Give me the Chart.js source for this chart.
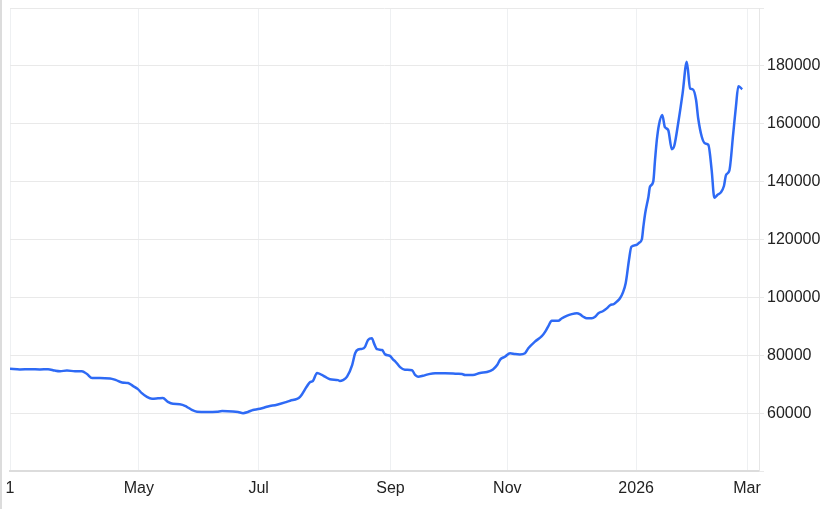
<!DOCTYPE html>
<html>
<head>
<meta charset="utf-8">
<script src="https://cdn.jsdelivr.net/npm/chart.js@4"></script>
<style>
  html, body { margin: 0; padding: 0; background: #fff; }
  #wrap { position: relative; width: 830px; height: 509px; }
  #edge { position: absolute; left: 0; top: 0; width: 2px; height: 509px; background: #dcdcdc; }
</style>
</head>
<body>
<div id="wrap">
  <canvas id="chart" width="830" height="509"></canvas>
  <div id="edge"></div>
</div>
<script>
// trading-day index along the axis and the price
const dayIndex = [
  0, 3.3, 6.7, 10, 12.7, 15, 16.7, 19, 21.7, 24, 25.7, 27.4, 30, 33.4, 35.4, 37.4, 39.4, 41, 42.7,
  44, 45.7, 47.4, 49.4, 51, 52.7, 54.4, 56.7, 59, 60.7, 62.4, 65.8, 69.1, 70.8, 74.4, 76.1, 77.8, 79.4, 81.1, 82.8, 84.4,
  86.1, 89.1, 91.8, 93.5, 95.8, 96.8, 99, 100.1, 101.1, 102.5, 104.1, 105.1, 106.8, 109.5, 110.1, 111.1, 112.5,
  114.2, 115.2, 116.2, 117.5, 118.5, 119.5, 120.8, 121.5, 122.5, 124.2, 125.2, 126.8, 127.8,
  128.5, 130.2, 131.8, 134.2, 135.2, 136.2, 137.8, 139.5, 141.9, 145.2, 149.2, 150.9, 151.9, 154.5, 156.9, 159.2,
  161.2, 162.6, 163.6, 165.2, 166.9, 168.6, 170.2,
  171.9, 173, 175.2, 177.5, 178.6, 179.7, 180.8, 183, 184.1, 185.8, 187.5, 189.2, 190.3, 191.4, 192.5, 194.2, 195.3,
  196.4, 198, 199.2, 200.3, 201.6, 202.5, 203.6, 204.7, 205.5, 206, 206.6, 207.4, 209, 210, 210.9,
  211.4, 212, 213.1, 213.6, 214.7, 215.3, 215.9, 216.6, 217.7, 218.6, 219.7, 220.9, 221.7, 223.1, 224.5, 225.9,
  227, 227.9, 229, 229.7, 230.9, 232, 233.1, 234.2, 235.1, 236.1, 237.2, 238.3, 239, 240.1, 241.4, 242.3, 243.1, 244.4
];
const price = [
  75300, 75100, 75200, 75100, 75200, 74700, 74500, 74700, 74500, 74500, 73500, 72100, 72100, 72000, 71400, 70600, 70400, 69400, 68300,
  66900, 65600, 65000, 65100, 65200, 63900, 63200, 63100, 62200, 61100, 60500, 60400, 60500, 60700, 60600, 60400, 60000, 60400, 61100, 61400, 61800,
  62300, 62900, 63700, 64300, 64900, 65600, 69100, 70700, 71100, 73900, 73200, 72600, 71700, 71400, 71100, 71400, 72600,
  76600, 80700, 82000, 82200, 82900, 85300, 85900, 84100, 82100, 81800, 80300, 79800, 78600,
  78000, 75900, 75000, 74800, 73200, 72600, 72900, 73400, 73800, 73800, 73600, 73500, 73200, 73200, 73900, 74200,
  75100, 76600, 78500, 79500, 80700, 80400, 80300,
  80700, 82400, 84700, 86600, 88100, 90100, 91900, 91900, 92700, 93600, 94200, 94500, 94100, 93300, 92800, 92800, 93300,
  94500, 95300, 96200, 97300, 97700, 98500, 99700, 102000, 104900, 108300, 112900, 117500, 118100, 118900, 120100,
  124400, 129000, 134800, 138200, 140000, 147500, 154400, 159600, 163000, 158800, 157800, 151200, 152300, 160700, 170500, 181400,
  172200, 171900, 168200, 161900, 155500, 153200, 152700, 144000, 134400, 135400, 136200, 138500, 142300, 143800, 156700, 165900, 173000, 171900
];

const xTickPos = [0, 43, 83, 127, 166, 209, 246];
const xTickLabels = ["1", "May", "Jul", "Sep", "Nov", "2026", "Mar"];
const yMin = 40000;
const yMax = 200000;
const yStep = 20000;

const points = dayIndex.map((d, i) => ({ x: d, y: price[i] }));
const font = { family: "'Liberation Sans', Arial, sans-serif", size: 16 };

new Chart(document.getElementById("chart"), {
  type: "line",
  data: {
    datasets: [
      {
        data: points,
        borderColor: "#2e6af5",
        borderWidth: 2.5,
        pointRadius: 0,
        cubicInterpolationMode: "monotone",
        fill: false,
      },
    ],
  },
  options: {
    responsive: false,
    animation: false,
    devicePixelRatio: 1,
    layout: { padding: { left: 10, top: 8, right: 0, bottom: 0 } },
    plugins: { legend: { display: false }, tooltip: { enabled: false } },
    scales: {
      x: {
        type: "linear",
        min: 0,
        max: 250,
        afterBuildTicks: (scale) => {
          scale.ticks = xTickPos.map((v) => ({ value: v }));
        },
        afterFit: (scale) => {
          scale.height = 38;
          scale.paddingLeft = 0;
          scale.paddingRight = 0;
        },
        ticks: {
          autoSkip: false,
          maxRotation: 0,
          padding: 8,
          color: "#222",
          font: font,
          callback: (v) => {
            const i = xTickPos.indexOf(v);
            return i >= 0 ? xTickLabels[i] : "";
          },
        },
        grid: { color: "#eef0f2", drawTicks: false },
        border: { display: true, color: "#dcdcdc", width: 2 },
      },
      y: {
        position: "right",
        min: yMin,
        max: yMax,
        afterFit: (scale) => {
          scale.width = 71;
          scale.paddingTop = 0;
          scale.paddingBottom = 0;
        },
        ticks: {
          stepSize: yStep,
          padding: 3,
          color: "#222",
          font: font,
          callback: (v) => (v === yMin || v === yMax ? "" : String(v)),
        },
        grid: { color: "#e9e9e9", tickLength: 5 },
        border: { display: true, color: "#e6e6e6" },
      },
    },
  },
});
</script>
</body>
</html>
